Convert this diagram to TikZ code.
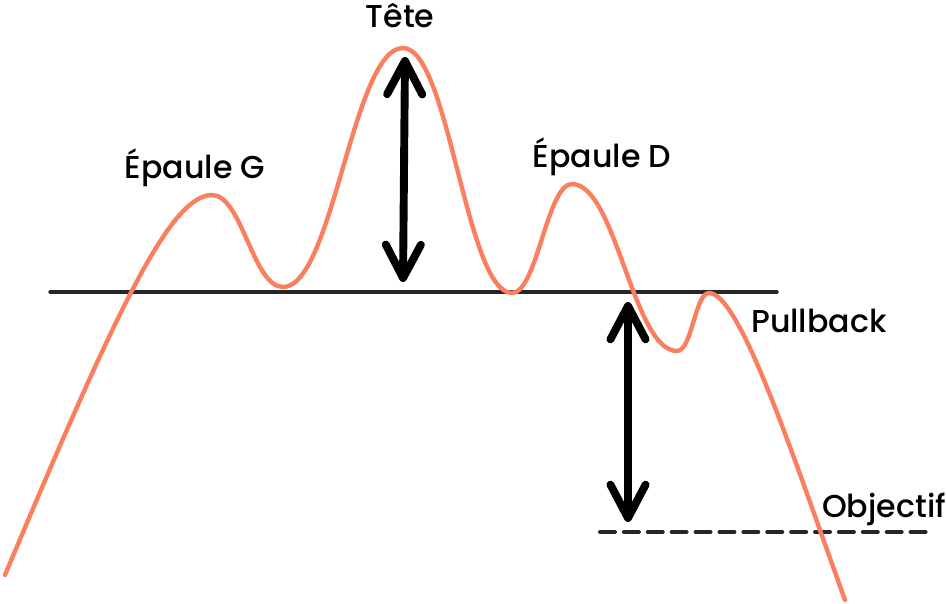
\documentclass[tikz,border=0pt]{standalone}
\usepackage{fontspec}
\setmainfont{Poppins Medium}
\usetikzlibrary{arrows.meta}
\definecolor{prix}{RGB}{250,127,94}

\begin{document}
\begin{tikzpicture}[x=0.02cm,y=0.02cm,line cap=round,
  >={Straight Barb[round,length=19pt,width=20pt]}]
\tikzstyle{every node}=[font=\fontsize{18}{21}\selectfont]
\tikzstyle{courbe}=[draw=prix,line width=2.5pt]
\tikzstyle{ligne}=[draw=black!85,line width=1.9pt]
\tikzstyle{fleche}=[<->,line width=4.5pt]

\useasboundingbox (0,0) rectangle (946,603);

\coordinate (neckL) at (50,311);
\coordinate (neckR) at (777,311);
\coordinate (objL) at (600,71);
\coordinate (objR) at (928,71);
\coordinate (h1) at (405,546);
\coordinate (h2) at (403,321);
\coordinate (p1) at (628,301);
\coordinate (p2) at (628,81);

\node (tete) at (400,587) {Tête};
\node (epauleG) at (195,435) {Épaule G};
\node (epauleD) at (602,446) {Épaule D};
\node (pullback) at (819,282) {Pullback};
\node (objectif) at (884,94) {Objectif};

% ligne de cou et objectif
\draw[ligne] (neckL) -- (neckR);
\draw[ligne,line width=2.3pt,dash pattern=on 8.5pt off 5.1pt] (objL) -- (objR);

% le prix
\path[courbe] (5,28) .. controls (115,290) and (170,408) .. (212,408)
  .. controls +(30,0) and +(-30,0) .. (283,316)
  .. controls +(50,0) and +(-50,0) .. (403,555)
  .. controls +(46,0) and +(-46,0) .. (512,310)
  .. controls +(25,0) and +(-25,0) .. (572,419)
  .. controls +(44,0) and +(-44,0) .. (677,252)
  .. controls +(15,0) and +(-14,0) .. (709,310)
  .. controls (740,310) and (794,144) .. (845,3);

% amplitudes
\draw[fleche] (h1) -- (h2);
\draw[fleche] (p1) -- (p2);
\end{tikzpicture}
\end{document}
